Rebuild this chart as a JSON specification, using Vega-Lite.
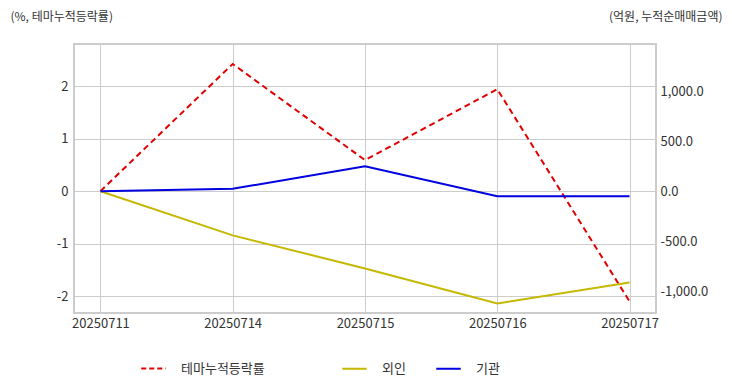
{
  "$schema": "https://vega.github.io/schema/vega-lite/v6.json",
  "width": 582,
  "height": 269,
  "autosize": {"type": "none"},
  "padding": {"left": 74, "top": 44, "right": 76, "bottom": 79},
  "background": "white",
  "config": {
    "font": "Noto Sans CJK KR",
    "view": {"stroke": "#cccccc", "strokeWidth": 2},
    "axis": {
      "labelFont": "Noto Sans CJK KR",
      "labelFontSize": 13,
      "labelColor": "#333333",
      "titleFont": "Noto Sans CJK KR",
      "titleFontSize": 12,
      "titleFontWeight": "normal",
      "titleColor": "#333333",
      "gridColor": "#cccccc",
      "gridWidth": 1,
      "domain": false,
      "ticks": false
    },
    "legend": {
      "labelFont": "Noto Sans CJK KR",
      "labelFontSize": 13,
      "labelColor": "#333333"
    }
  },
  "data": {
    "values": [
      {"date": "20250711", "series": "테마누적등락률", "value": 0},
      {"date": "20250714", "series": "테마누적등락률", "value": 2.42},
      {"date": "20250715", "series": "테마누적등락률", "value": 0.59},
      {"date": "20250716", "series": "테마누적등락률", "value": 1.94},
      {"date": "20250717", "series": "테마누적등락률", "value": -2.1},
      {"date": "20250711", "series": "외인", "value": 0},
      {"date": "20250714", "series": "외인", "value": -440},
      {"date": "20250715", "series": "외인", "value": -770},
      {"date": "20250716", "series": "외인", "value": -1120},
      {"date": "20250717", "series": "외인", "value": -910},
      {"date": "20250711", "series": "기관", "value": 0},
      {"date": "20250714", "series": "기관", "value": 25},
      {"date": "20250715", "series": "기관", "value": 250},
      {"date": "20250716", "series": "기관", "value": -50},
      {"date": "20250717", "series": "기관", "value": -50}
    ]
  },
  "encoding": {
    "x": {
      "field": "date",
      "type": "ordinal",
      "scale": {"type": "point", "padding": 0.2},
      "axis": {"labelAngle": 0, "title": null, "grid": true, "labelPadding": 4}
    }
  },
  "layer": [
    {
      "transform": [{"filter": "datum.series === '테마누적등락률'"}],
      "mark": {"type": "line", "strokeWidth": 2, "strokeDash": [6, 4]},
      "encoding": {
        "y": {
          "field": "value",
          "type": "quantitative",
          "scale": {"domain": [-2.32, 2.8], "nice": false, "zero": false},
          "axis": {
            "values": [-2, -1, 0, 1, 2],
            "format": "d",
            "labelExpr": "replace(datum.label, '\u2212', '-')",
            "labelPadding": 6,
            "title": "(%, 테마누적등락률)",
            "titleAngle": 0,
            "titleAlign": "left",
            "titleBaseline": "middle",
            "titleX": -64,
            "titleY": -28
          }
        },
        "color": {
          "field": "series",
          "type": "nominal",
          "scale": {"domain": ["테마누적등락률"], "range": ["#e00000"]},
          "legend": {
            "title": null,
            "orient": "none",
            "legendX": 66,
            "legendY": 311,
            "symbolType": "stroke",
            "symbolStrokeWidth": 2,
            "symbolDash": [5, 3],
            "symbolSize": 600,
            "labelOffset": 14
          }
        }
      }
    },
    {
      "transform": [{"filter": "datum.series !== '테마누적등락률'"}],
      "mark": {"type": "line", "strokeWidth": 2},
      "encoding": {
        "y": {
          "field": "value",
          "type": "quantitative",
          "scale": {"domain": [-1215, 1470], "nice": false, "zero": false},
          "axis": {
            "orient": "right",
            "values": [-1000, -500, 0, 500, 1000],
            "format": ",.1f",
            "labelExpr": "replace(datum.label, '\u2212', '-')",
            "labelPadding": 4,
            "title": "(억원, 누적순매매금액)",
            "titleAngle": 0,
            "titleAlign": "right",
            "titleBaseline": "middle",
            "titleX": 66,
            "titleY": -28
          }
        },
        "color": {
          "field": "series",
          "type": "nominal",
          "sort": ["외인", "기관"],
          "scale": {"domain": ["외인", "기관"], "range": ["#c4b800", "#0000e0"]},
          "legend": {
            "title": null,
            "orient": "none",
            "direction": "horizontal",
            "legendX": 267,
            "legendY": 311,
            "symbolType": "stroke",
            "symbolStrokeWidth": 2,
            "symbolSize": 600,
            "labelOffset": 14,
            "columnPadding": 26
          }
        }
      }
    }
  ],
  "resolve": {"scale": {"y": "independent", "color": "independent"}, "legend": {"color": "independent"}}
}
